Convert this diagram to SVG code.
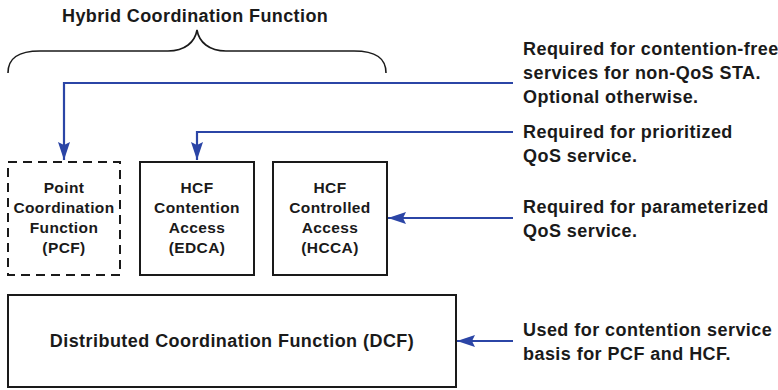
<svg xmlns="http://www.w3.org/2000/svg" width="778" height="390" viewBox="0 0 778 390">
<style>
text{font-family:"Liberation Sans",Arial,sans-serif;font-weight:bold;fill:#1a1a1a}
.t{font-size:18px;letter-spacing:0.45px}
.b{font-size:15.5px;letter-spacing:0.4px;text-anchor:middle}
.box{fill:#fff;stroke:#1a1a1a;stroke-width:2}
.con{fill:none;stroke:#2b45a6;stroke-width:2.2}
</style>
<defs>
<marker id="ah" viewBox="0 0 18 12" refX="18" refY="6" markerWidth="18" markerHeight="12" markerUnits="userSpaceOnUse" orient="auto"><path d="M0,0 L18,6 L0,12 L3,6 z" fill="#2b45a6"/></marker>
</defs>
<text class="t" x="62" y="22" style="letter-spacing:0.4px">Hybrid Coordination Function</text>
<path d="M8,73 C8,58 18,51 40,51 L168,51 C185,51 195,42 197,30 C199,42 209,51 226,51 L354,51 C376,51 386,58 386,73" fill="none" stroke="#1a1a1a" stroke-width="1.6"/>
<g id="pcf">
<rect x="8" y="162" width="112" height="113" class="box" stroke-dasharray="9,6"/>
<text class="b" x="64" y="193">Point</text>
<text class="b" x="64" y="213">Coordination</text>
<text class="b" x="64" y="233">Function</text>
<text class="b" x="64" y="253">(PCF)</text>
</g>
<g id="edca">
<rect x="140" y="162" width="114" height="113" class="box"/>
<text class="b" x="197" y="193">HCF</text>
<text class="b" x="197" y="213">Contention</text>
<text class="b" x="197" y="233">Access</text>
<text class="b" x="197" y="253">(EDCA)</text>
</g>
<g id="hcca">
<rect x="273" y="162" width="114" height="113" class="box"/>
<text class="b" x="330" y="193">HCF</text>
<text class="b" x="330" y="213">Controlled</text>
<text class="b" x="330" y="233">Access</text>
<text class="b" x="330" y="253">(HCCA)</text>
</g>
<g id="dcf">
<rect x="8" y="295" width="448" height="92" class="box"/>
<text class="t" x="232" y="347" text-anchor="middle">Distributed Coordination Function (DCF)</text>
</g>
<g id="connectors">
<path class="con" d="M513,83 L64,83 L64,160" marker-end="url(#ah)"/>
<path class="con" d="M513,132 L197,132 L197,160" marker-end="url(#ah)"/>
<path class="con" d="M513,218 L388,218" marker-end="url(#ah)"/>
<path class="con" d="M513,341 L457,341" marker-end="url(#ah)"/>
</g>
<g id="notes">
<text class="t" x="523" y="55">Required for contention-free</text>
<text class="t" x="523" y="79">services for non-QoS STA.</text>
<text class="t" x="523" y="103">Optional otherwise.</text>
<text class="t" x="523" y="138">Required for prioritized</text>
<text class="t" x="523" y="162">QoS service.</text>
<text class="t" x="523" y="213">Required for parameterized</text>
<text class="t" x="523" y="237">QoS service.</text>
<text class="t" x="523" y="336">Used for contention service</text>
<text class="t" x="523" y="360">basis for PCF and HCF.</text>
</g>
</svg>
